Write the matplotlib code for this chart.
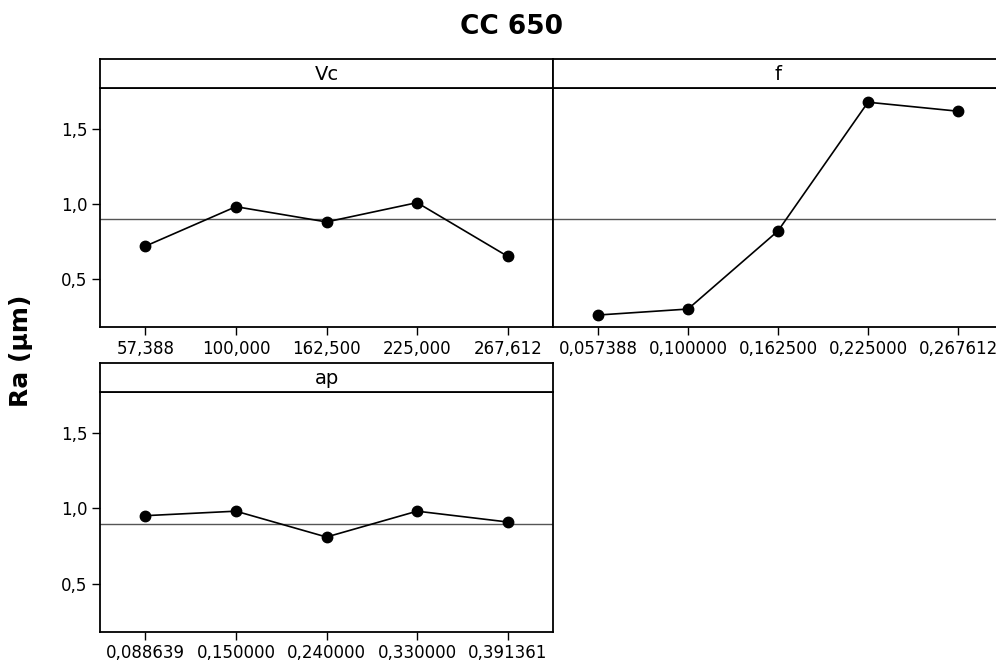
import matplotlib
matplotlib.use("Agg")
import matplotlib.pyplot as plt

# niveles de cada factor (etiquetas del eje x)
vc_levels = ["57,388", "100,000", "162,500", "225,000", "267,612"]
f_levels = ["0,057388", "0,100000", "0,162500", "0,225000", "0,267612"]
ap_levels = ["0,088639", "0,150000", "0,240000", "0,330000", "0,391361"]

# medias de Ra por nivel
vc_means = [0.718, 0.982, 0.880, 1.009, 0.650]
f_means = [0.258, 0.298, 0.820, 1.680, 1.620]
ap_means = [0.952, 0.982, 0.810, 0.982, 0.910]

grand_mean = 0.898

W, H = 996, 662
YLIM = (0.178, 1.775)
FS = 12

plt.rcParams["font.family"] = ["DejaVu Sans"]


def box(l, t, r, b):
    # caja en pixeles -> fracciones de la figura
    return [l / W, 1 - b / H, (r - l) / W, (b - t) / H]


def panel(fig, l, t, r, b, strip_top, name, levels, means, yticks=True):
    ax = fig.add_axes(box(l, t, r, b))
    ax.axhline(grand_mean, color="#555555", lw=1.0, zorder=1)
    ax.plot(levels, means, color="black", lw=1.2, marker="o", ms=7.5, zorder=3)
    ax.set_xlim(-0.5, len(levels) - 0.5)
    ax.set_ylim(*YLIM)
    ax.set_yticks([0.5, 1.0, 1.5])
    ax.set_yticklabels(["0,5", "1,0", "1,5"])
    ax.tick_params(axis="both", labelsize=FS, length=6, width=1.0, pad=3, direction="out")
    if not yticks:
        ax.tick_params(axis="y", left=False, labelleft=False)
    for s in ax.spines.values():
        s.set_linewidth(1.3)
        s.set_color("black")

    # cabecera con el nombre del factor
    st = fig.add_axes(box(l, strip_top, r, t))
    st.set_xticks([])
    st.set_yticks([])
    for s in st.spines.values():
        s.set_linewidth(1.3)
        s.set_color("black")
    st.text(0.5, 0.48, name, transform=st.transAxes, ha="center", va="center",
            fontsize=14)
    return ax


fig = plt.figure(figsize=(W / 100, H / 100), dpi=100)

panel(fig, 100, 88, 553, 327, 59, "Vc", vc_levels, vc_means)
panel(fig, 553, 88, 1003, 327, 59, "f", f_levels, f_means, yticks=False)
panel(fig, 100, 392, 553, 632, 363, "ap", ap_levels, ap_means)

fig.text(511 / W, 1 - 27 / H, "CC 650", ha="center", va="center",
         fontsize=19, fontweight="bold")
fig.text(21 / W, 1 - 351 / H, "Ra (µm)", ha="center", va="center",
         rotation=90, fontsize=18, fontweight="bold")

fig.savefig("out.png", dpi=100)
